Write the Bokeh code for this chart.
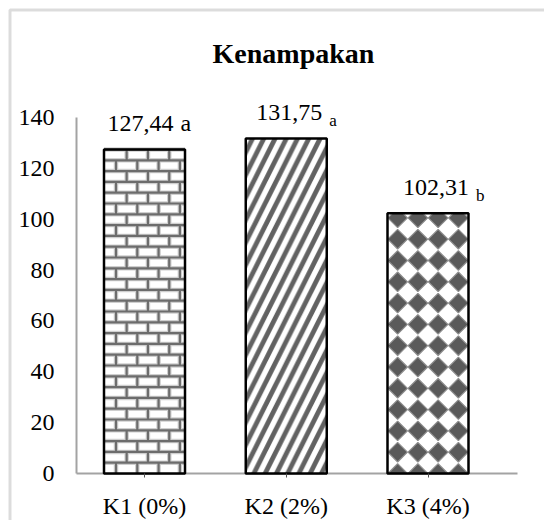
import numpy as np
from bokeh.plotting import figure
from bokeh.models import Range1d, FixedTicker, BoxAnnotation
from bokeh.core.properties import value
from bokeh.embed import file_html
from bokeh.resources import INLINE

# --- data -------------------------------------------------------------
categories = ["K1 (0%)", "K2 (2%)", "K3 (4%)"]
values = [127.44, 131.75, 102.31]
value_labels = ["127,44", "131,75", "102,31"]
letters = ["a", "a", "b"]
y_ticks = [0, 20, 40, 60, 80, 100, 120, 140]
chart_title = "Kenampakan"

# --- layout (pixels) ---------------------------------------------------
W, H = 544, 520
PX_X = 141.75          # px per category
PX_Y = 2.543           # px per value unit
X1_PX = 144.0          # px position of the first category
Y0_PX = 473.0          # px position of value 0
AXIS_L_PX, AXIS_R_PX = 76, 517

def x_of(px):
    return (px - X1_PX) / PX_X + 1.0

def y_of(px):
    return (Y0_PX - px) / PX_Y

FONT = "Liberation Serif"
GRAY_AXIS = "#a3a3a3"

xs = [i + 1 for i in range(len(categories))]
bar_w = 81.0 / PX_X

# the plotting frame covers the whole canvas; axes are pinned inside it
p = figure(width=W, height=H,
           x_range=Range1d(x_of(0), x_of(W)),
           y_range=Range1d(y_of(H), y_of(0)),
           output_backend="svg", toolbar_location=None,
           min_border=0, min_border_left=0, min_border_right=0,
           min_border_top=0, min_border_bottom=0)
p.grid.visible = False
p.outline_line_color = None
p.background_fill_color = "white"
p.border_fill_color = "white"

ax_x = x_of(AXIS_L_PX)

# category axis on value 0
xa = p.xaxis[0]
xa.fixed_location = 0
xa.ticker = FixedTicker(ticks=xs)
xa.major_label_overrides = {x: c for x, c in zip(xs, categories)}
xa.axis_line_color = None
xa.major_tick_in = 0
xa.major_tick_out = 4
xa.major_tick_line_color = "#505050"
xa.minor_tick_line_color = None
xa.major_label_standoff = 15
xa.major_label_text_font = FONT
xa.major_label_text_font_size = "24px"
xa.major_label_text_color = "black"

# value axis pinned at the left edge of the plot area
ya = p.yaxis[0]
ya.fixed_location = ax_x
ya.ticker = FixedTicker(ticks=y_ticks)
ya.axis_line_color = None
ya.major_tick_in = 0
ya.major_tick_out = 0
ya.major_tick_line_color = None
ya.minor_tick_line_color = None
ya.major_label_standoff = 22
ya.major_label_text_font = FONT
ya.major_label_text_font_size = "24px"
ya.major_label_text_color = "black"

# axis lines
p.segment(x0=[ax_x], y0=[y_ticks[0]], x1=[ax_x], y1=[y_ticks[-1]],
          line_color=GRAY_AXIS, line_width=2)
p.segment(x0=[ax_x], y0=[0], x1=[x_of(AXIS_R_PX)], y1=[0],
          line_color=GRAY_AXIS, line_width=2)

# white bar bodies
p.vbar(x=xs, top=values, width=bar_w, bottom=0, fill_color="white", line_color=None)

# K2: diagonal stripes
p.vbar(x=[xs[1]], top=[values[1]], width=bar_w, bottom=0,
       fill_alpha=0, line_color=None,
       hatch_pattern="right_diagonal_line", hatch_color="#626262",
       hatch_weight=4.8, hatch_scale=22.5)

# K1: brick pattern
row_h = 10.8 / PX_Y
brick_w = 21.3 / PX_X
left0 = xs[0] - bar_w / 2
right0 = xs[0] + bar_w / 2
top0 = values[0]
hx0, hy0, hx1, hy1 = [], [], [], []
vx0, vy0, vx1, vy1 = [], [], [], []
k = 0
while k * row_h < top0:
    yb = k * row_h
    yt = min(yb + row_h, top0)
    if k > 0:
        hx0.append(left0); hx1.append(right0); hy0.append(yb); hy1.append(yb)
    off = (12.0 / PX_X) + (brick_w / 2 if k % 2 else 0.0)
    xv = left0 + off
    while xv < right0 - 1e-9:
        vx0.append(xv); vx1.append(xv); vy0.append(yb); vy1.append(yt)
        xv += brick_w
    k += 1
for lw, col in ((4.5, "#cfcfcf"), (2.2, "#6c6c6c")):
    p.segment(x0=hx0, y0=hy0, x1=hx1, y1=hy1, line_color=col, line_width=lw)
    p.segment(x0=vx0, y0=vy0, x1=vx1, y1=vy1, line_color=col, line_width=lw)

# K3: diamond grid
def clip_poly(px, py, lo, hi):
    def clip(pts, inside, inter):
        out = []
        n = len(pts)
        for i in range(n):
            a, b = pts[i], pts[(i + 1) % n]
            ia, ib = inside(a), inside(b)
            if ia:
                out.append(a)
            if ia != ib:
                out.append(inter(a, b))
        return out
    def at_y(a, b, yv):
        t = (yv - a[1]) / (b[1] - a[1])
        return (a[0] + t * (b[0] - a[0]), yv)
    pts = list(zip(px, py))
    pts = clip(pts, lambda q: q[1] >= lo, lambda a, b: at_y(a, b, lo))
    if pts:
        pts = clip(pts, lambda q: q[1] <= hi, lambda a, b: at_y(a, b, hi))
    return [q[0] for q in pts], [q[1] for q in pts]

left2 = xs[2] - bar_w / 2
top2 = values[2]
hw = 9.8 / PX_X
hh = 9.8 / PX_Y
dy = 21.3 / PX_Y
dxs, dys = [], []
k = 0
while k * dy - hh < top2:
    cy = k * dy
    for j in range(4):
        cx = left2 + (j + 0.5) * bar_w / 4
        qx, qy = clip_poly([cx - hw, cx, cx + hw, cx], [cy, cy + hh, cy, cy - hh], 0, top2)
        if len(qx) >= 3:
            dxs.append(qx); dys.append(qy)
    k += 1
p.patches(dxs, dys, fill_color="#5a5a5a", line_color="#8f8f8f", line_width=1.2)

# bar outlines
p.vbar(x=xs, top=values, width=bar_w, bottom=0, fill_color=None,
       line_color="black", line_width=2.5)

# value labels with significance letters
num_dx = [-4, 3, 8]
num_half = 2.75 * 24 / 2
p.text(x=xs, y=values, text=value_labels, x_offset=num_dx, y_offset=-26,
       text_align="center", text_baseline="middle",
       text_font=value(FONT), text_font_size="24px", text_color="black")
let_dx = [d + num_half + 7 for d in num_dx]
p.text(x=xs[:1], y=values[:1], text=letters[:1], x_offset=let_dx[:1], y_offset=-26,
       text_align="left", text_baseline="middle",
       text_font=value(FONT), text_font_size="24px", text_color="black")
p.text(x=xs[1:], y=values[1:], text=letters[1:], x_offset=let_dx[1:], y_offset=-18,
       text_align="left", text_baseline="middle",
       text_font=value(FONT), text_font_size="17px", text_color="black")

# chart title
p.text(x=[x_of(293)], y=[y_of(53)], text=[chart_title],
       text_align="center", text_baseline="middle",
       text_font=value(FONT), text_font_size="28px", text_font_style="bold",
       text_color="black")

# chart area border
p.add_layout(BoxAnnotation(left=9.5, right=W + 20, top=9.5, bottom=H + 20,
                           left_units="canvas", right_units="canvas",
                           top_units="canvas", bottom_units="canvas",
                           fill_alpha=0, line_color="#8c8c8c", line_width=3))

open("out.html", "w").write(file_html(p, INLINE))
